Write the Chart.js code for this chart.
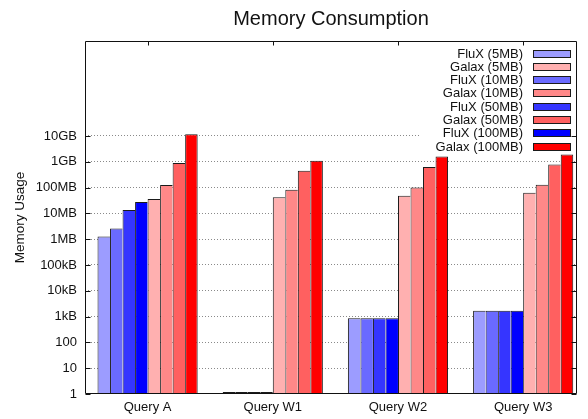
<!DOCTYPE html>
<html>
<head>
<meta charset="utf-8">
<title>Memory Consumption</title>
<script src="https://cdn.jsdelivr.net/npm/chart.js@4/dist/chart.umd.min.js"></script>
<style>
  html, body { margin: 0; padding: 0; background: #fff; }
  canvas { display: block; }
</style>
</head>
<body>
<canvas id="chart" width="588" height="419"></canvas>
<script>
// data (bytes, log scale)
const queries = ['Query A', 'Query W1', 'Query W2', 'Query W3'];
const fluX5MB = [1.27e6, 1, 870, 1700];
const fluX10MB = [2.6e6, 1, 870, 1700];
const fluX50MB = [1.35e7, 1, 870, 1700];
const fluX100MB = [2.75e7, 1, 870, 1700];
const galax5MB = [3.6e7, 4.2e7, 4.8e7, 6.3e7];
const galax10MB = [1.27e8, 8.3e7, 1.0e8, 1.3e8];
const galax50MB = [9.0e8, 4.5e8, 6.3e8, 7.8e8];
const galax100MB = [1.16e10, 1.1e9, 1.6e9, 1.9e9];

const tickValues = [1, 10, 100, 1e3, 1e4, 1e5, 1e6, 1e7, 1e8, 1e9, 1e10];
const tickLabels = ['1', '10', '100', '1kB', '10kB', '100kB', '1MB', '10MB', '100MB', '1GB', '10GB'];

const FONT = "'Liberation Sans', Arial, Helvetica, sans-serif";
const INK = '#111';

// bars go FluX first then Galax, the key interleaves them
const series = [
  { label: 'FluX (5MB)', values: fluX5MB, color: '#9c9cff' },
  { label: 'FluX (10MB)', values: fluX10MB, color: '#6a6aff' },
  { label: 'FluX (50MB)', values: fluX50MB, color: '#3535ff' },
  { label: 'FluX (100MB)', values: fluX100MB, color: '#0000ff' },
  { label: 'Galax (5MB)', values: galax5MB, color: '#ffb0b0' },
  { label: 'Galax (10MB)', values: galax10MB, color: '#ff8888' },
  { label: 'Galax (50MB)', values: galax50MB, color: '#ff6060' },
  { label: 'Galax (100MB)', values: galax100MB, color: '#ff0000' },
];
const keyOrder = [0, 4, 1, 5, 2, 6, 3, 7];

const datasets = series.map((s, n) => ({
  label: s.label,
  data: s.values.map((v, i) => ({ x: i, y: v })),
  backgroundColor: s.color,
  borderColor: '#1a1a1a',
  borderWidth: { top: 1, left: 1, bottom: 1, right: n === series.length - 1 ? 1 : 0 },
  borderSkipped: false,
  minBarLength: 2,
  categoryPercentage: 0.8,
  barPercentage: 1.0,
}));

// gnuplot style frame, inward tics and the key on the right
const framePlugin = {
  id: 'frame',
  afterDraw(chart) {
    const { ctx, chartArea: a, scales } = chart;
    ctx.save();

    // key
    ctx.fillStyle = '#fff';
    ctx.fillRect(421, 46, 154, 106);
    ctx.font = '13px ' + FONT;
    ctx.textAlign = 'right';
    ctx.textBaseline = 'middle';
    keyOrder.forEach((idx, row) => {
      const ds = chart.data.datasets[idx];
      const y = 53.5 + row * 13.3;
      ctx.fillStyle = INK;
      ctx.fillText(ds.label, 523, y + 0.5);
      ctx.fillStyle = ds.backgroundColor;
      ctx.fillRect(533.5, Math.round(y) - 3.5, 37, 7);
      ctx.strokeStyle = '#1a1a1a';
      ctx.lineWidth = 1;
      ctx.strokeRect(533.5, Math.round(y) - 3.5, 37, 7);
    });

    ctx.strokeStyle = INK;
    ctx.lineWidth = 1;
    ctx.beginPath();
    const L = Math.round(a.left) + 0.5, R = Math.round(a.right) - 0.5;
    const T = Math.round(a.top) + 0.5, B = Math.round(a.bottom) - 0.5;
    // y tics on both sides
    scales.y.ticks.forEach(t => {
      const py = Math.round(scales.y.getPixelForValue(t.value)) + 0.5;
      ctx.moveTo(L, py); ctx.lineTo(L + 5, py);
      ctx.moveTo(R, py); ctx.lineTo(R - 5, py);
    });
    // x tics on the top
    scales.x.ticks.forEach(t => {
      const px = Math.round(scales.x.getPixelForValue(t.value)) + 0.5;
      ctx.moveTo(px, T); ctx.lineTo(px, T + 4);
    });
    ctx.rect(L, T, R - L, B - T);
    ctx.stroke();
    ctx.restore();
  }
};

new Chart(document.getElementById('chart'), {
  type: 'bar',
  data: { datasets },
  options: {
    responsive: false,
    animation: false,
    layout: { padding: { left: 0, right: 11, top: 0, bottom: 0 } },
    plugins: {
      legend: { display: false },
      tooltip: { enabled: false },
      title: {
        display: true,
        text: 'Memory Consumption',
        fullSize: false,
        color: INK,
        font: { family: FONT, size: 20, weight: 'normal', lineHeight: 1.1 },
        padding: { top: 8, bottom: 11 },
      },
    },
    scales: {
      x: {
        type: 'linear',
        min: -0.5,
        max: 3.43,
        offset: false,
        afterBuildTicks: scale => { scale.ticks = queries.map((q, i) => ({ value: i })); },
        afterFit: scale => { scale.height = 25; },
        grid: { display: false, drawTicks: false },
        border: { display: false },
        ticks: {
          autoSkip: false,
          maxRotation: 0,
          padding: 6,
          color: INK,
          font: { family: FONT, size: 13 },
          callback: v => queries[v],
        },
      },
      y: {
        type: 'logarithmic',
        min: 1,
        max: 4.8e13,
        afterBuildTicks: scale => { scale.ticks = tickValues.map(v => ({ value: v })); },
        afterFit: scale => { scale.width = 85; },
        grid: {
          drawTicks: false,
          color: c => (c.tick && c.tick.value === 1 ? 'rgba(0,0,0,0)' : '#8a8a8a'),
          lineWidth: 1,
        },
        border: { display: false, dash: [1, 2] },
        ticks: {
          autoSkip: false,
          padding: 8,
          color: INK,
          font: { family: FONT, size: 13 },
          callback: (v, i) => tickLabels[i],
        },
        title: {
          display: true,
          text: 'Memory Usage',
          color: INK,
          font: { family: FONT, size: 13.5 },
          padding: { top: 12, bottom: 0 },
        },
      },
    },
  },
  plugins: [framePlugin],
});
</script>
</body>
</html>
